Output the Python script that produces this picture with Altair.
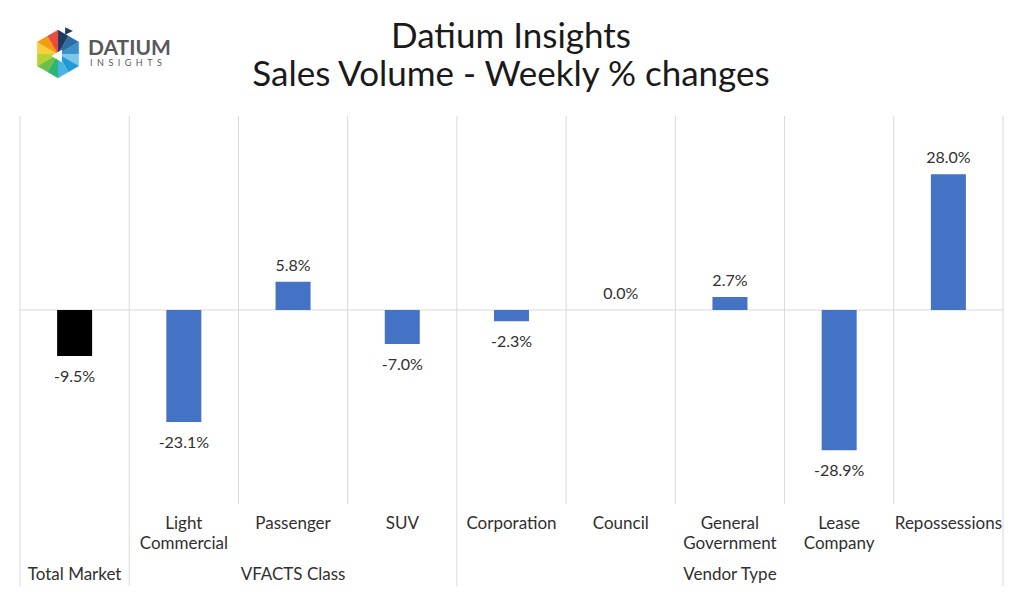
import altair as alt
import pandas as pd

# ---- data ----
categories = ["Total Market", "Light\nCommercial", "Passenger", "SUV", "Corporation",
              "Council", "General\nGovernment", "Lease\nCompany", "Repossessions"]
values = [-9.5, -23.1, 5.8, -7.0, -2.3, 0.0, 2.7, -28.9, 28.0]
groups = ["Total Market", "VFACTS Class", "Vendor Type"]
group_start = [0, 1, 4]
group_end = [1, 4, 9]

FONT = "Lato"
TXT = "#303030"
GRID = "#D9D9D9"
BLUE = "#4472C4"

df = pd.DataFrame({
    "category": categories,
    "idx": [i + 0.5 for i in range(len(categories))],
    "value": values,
    "label": [f"{v:.1f}%" for v in values],
})
bounds = sorted(set(group_start + group_end + list(range(len(categories) + 1))))
long_b = set(group_start + group_end)
bdf = pd.DataFrame({"b": bounds, "long": [b in long_b for b in bounds]})
gdf = pd.DataFrame({"group": groups,
                    "mid": [(s + e) / 2 for s, e in zip(group_start, group_end)]})

xs = alt.Scale(domain=[0, len(categories)], range=[20, 1003], padding=0, nice=False, zero=False)
ys = alt.Scale(domain=[-40, 40], range=[504, 116], padding=0, nice=False)

base = alt.Chart(df)

vlines_short = alt.Chart(bdf).transform_filter("!datum.long").mark_rule(color=GRID, strokeWidth=1).encode(
    x=alt.X("b:Q", scale=xs, axis=None),
    y=alt.value(116), y2=alt.value(504))
vlines_long = alt.Chart(bdf).transform_filter("datum.long").mark_rule(color=GRID, strokeWidth=1).encode(
    x=alt.X("b:Q", scale=xs, axis=None),
    y=alt.value(116), y2=alt.value(586))

zero = alt.Chart(pd.DataFrame({"z": [0]})).mark_rule(color=GRID, strokeWidth=1).encode(
    y=alt.Y("z:Q", scale=ys, axis=None), x=alt.value(20), x2=alt.value(1003))

bars = base.mark_bar(width=35).encode(
    x=alt.X("idx:Q", scale=xs, axis=None),
    y=alt.Y("value:Q", scale=ys, axis=None),
    y2=alt.datum(0),
    color=alt.condition(alt.datum.category == "Total Market", alt.value("black"), alt.value(BLUE)),
)

pos_lbl = base.transform_filter("datum.value >= 0").mark_text(
    font=FONT, fontSize=16, color=TXT, baseline="middle", dy=-16).encode(
    x=alt.X("idx:Q", scale=xs), y=alt.Y("value:Q", scale=ys), text="label:N")
neg_lbl = base.transform_filter("datum.value < 0").mark_text(
    font=FONT, fontSize=16, color=TXT, baseline="middle", dy=21).encode(
    x=alt.X("idx:Q", scale=xs), y=alt.Y("value:Q", scale=ys), text="label:N")

cat_lbl = base.transform_filter("datum.category != 'Total Market'").mark_text(
    font=FONT, fontSize=17, color=TXT, baseline="middle", lineBreak="\n", lineHeight=20).encode(
    x=alt.X("idx:Q", scale=xs), y=alt.value(524), text="category:N")

grp_lbl = alt.Chart(gdf).mark_text(font=FONT, fontSize=17, color=TXT, baseline="middle").encode(
    x=alt.X("mid:Q", scale=xs), y=alt.value(575), text="group:N")

titles = alt.Chart(pd.DataFrame({"t": ["Datium Insights", "Sales Volume - Weekly % changes"],
                                 "yy": [37, 75]})).mark_text(
    font=FONT, fontSize=35, color="#1a1a1a", baseline="middle").encode(
    x=alt.value(511), y=alt.Y("yy:Q", scale=None), text="t:N")

# ---- logo (decoration) ----
hexpts = [(0, -1), (0.866, -0.5), (0.866, 0.5), (0, 1), (-0.866, 0.5), (-0.866, -0.5)]
logo_cols = ["#1F3A5F", "#3B8FCB", "#1E9BD7", "#2BB673", "#B5D334", "#F39C12"]
half_cols = ["#2E6DA4", "#7FC6EA", "#48B3E5", "#6CC04A", "#F4D03F", "#E94B3C"]
shapes = []
for k in range(6):
    a = hexpts[k]
    b = hexpts[(k + 1) % 6]
    m = ((a[0] + b[0]) / 2, (a[1] + b[1]) / 2)
    shapes.append({"p": f"M0,0L{a[0]},{a[1]}L{m[0]},{m[1]}Z", "c": logo_cols[k]})
    shapes.append({"p": f"M0,0L{m[0]},{m[1]}L{b[0]},{b[1]}Z", "c": half_cols[k]})
logo_layers = []
for s in shapes:
    logo_layers.append(alt.Chart(pd.DataFrame({"a": [0]})).mark_point(
        shape=s["p"], filled=True, fill=s["c"], stroke=s["c"], strokeWidth=0.3, opacity=1, size=2300).encode(
        x=alt.value(58), y=alt.value(54)))
logo_layers.append(alt.Chart(pd.DataFrame({"a": [0]})).mark_point(
    shape="M-0.6,0L0.35,-0.55L0.35,0.55Z", filled=True, fill="white", opacity=1, size=500).encode(
    x=alt.value(58), y=alt.value(56)))
logo_layers.append(alt.Chart(pd.DataFrame({"a": [0]})).mark_point(
    shape="M-1,-1L1,0L-1,1Z", filled=True, fill="#1F3A5F", opacity=1, size=60).encode(
    x=alt.value(69), y=alt.value(31)))
logo_txt = alt.Chart(pd.DataFrame({"t": ["DATIUM"]})).mark_text(
    font=FONT, fontSize=21, fontWeight="bold", color="#58595B", align="left", baseline="middle").encode(
    x=alt.value(88), y=alt.value(49), text="t:N")
logo_txt2 = alt.Chart(pd.DataFrame({"t": ["\u2002".join("INSIGHTS")]})).mark_text(
    font=FONT, fontSize=9, color="#58595B", align="left", baseline="middle").encode(
    x=alt.value(90), y=alt.value(63), text="t:N")

chart = alt.layer(vlines_short, vlines_long, zero, bars, pos_lbl, neg_lbl, cat_lbl, grp_lbl,
                  titles, *logo_layers, logo_txt, logo_txt2).properties(
    width=1024, height=594, autosize=alt.AutoSizeParams(type="none"), padding=0,
    background="white"
).configure_view(stroke=None)

chart.save("out.html", embed_options={"renderer": "svg", "actions": False})
